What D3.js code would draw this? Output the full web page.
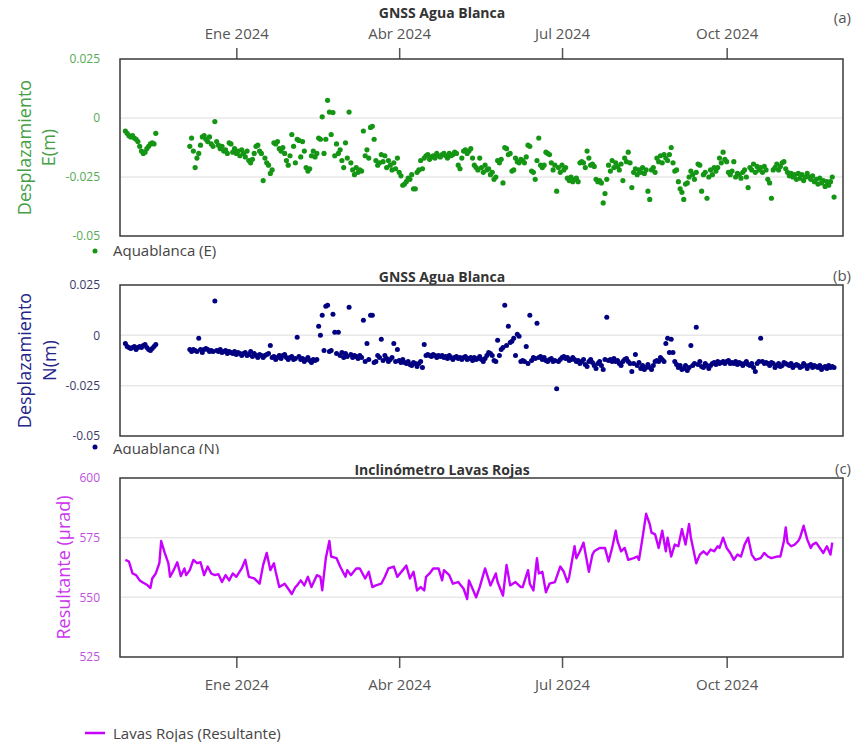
<!DOCTYPE html>
<html><head><meta charset="utf-8">
<script src="https://cdn.jsdelivr.net/npm/d3@7/dist/d3.min.js"></script>
<style>html,body{margin:0;padding:0;background:#fff;} svg{display:block;}</style>
</head><body>
<svg id="chart" width="853" height="742"></svg>
<script>
// ---------- data ----------
const monthTicks = ["2024-01-01","2024-04-01","2024-07-01","2024-10-01"];
const monthLabels = ["Ene 2024","Abr 2024","Jul 2024","Oct 2024"];

// GNSS daily samples starting at gnssStart (values in mm, null = no data)
const gnssStart = "2023-10-31";
const eastMm = [
-5.5,-6.5,-7.5,-8,-7.5,-8.5,-9,-10,-12,-14,-15,-14.5,-13,-12,-11,-10.5,-11,-6.5,
null,null,null,null,null,null,null,null,null,null,null,null,null,null,null,null,null,null,
-12,-8.5,-14,-21,-17,-15,-11.5,-8,-7.5,-9,
-10,-8,-11,-12,-1.5,-10,-11.5,-13,-12,-14,
-13.5,-15,-10.5,-11,-14.5,-13,-15,-14,-16,-13.5,
-15,-16.5,-14,-18,-19,-17.5,-15,-12,-11.5,-14,
-15,-26.5,-17,-19,-20,-23.5,-22,-10.5,-11,-10,
-13,-14,-12.5,-15,-18,-20,-16,-7,-12,-19,
-9,-9.5,-16.5,-10,-14,-21,-22.5,-21.5,-16,-14,
-16.5,-15,-8.5,-9,0.5,-15,-9,7.5,2.5,-7,
2.3,-16,-11,-15,-13.5,-18,-21,-10.5,-17,2.5,
-19,-22,-24,-21,-23,-22,-22.5,-5.5,-16,-13.5,
-17,-4,-3.5,-9,-18,-20,-19,-15.5,-18.5,-16,
-21,-18,-20,-22,-19,-21.5,-17,-23,-24.5,-28.5,
-28,-27,-25.5,-26,-24,-30,-30,-23,-22,-18,
-21.5,-17,-16,-15.5,-17.5,-16.5,-16,-17,-15,-16,
-16.5,-15.5,-15,-16,-17,-15,-16,-15.5,-14.5,-15,
-20,-21.5,-17,-14,-13.5,-15,-14,-13,-17,-20,
-21,-22,-17,-21,-23,-20,-22,-21.5,-24,-23,
-26,-25,-18,-19,-17.5,-27.5,-12.5,-13,-15.5,-15,
-22.5,-22,-17,-18.5,-19,-17.5,-18,-19,-16.5,-11.5,
-12,-22.5,-23,-26,-18,-8.5,-20,-21,-20,-14.5,
-15,-15.5,-19,-22,-20,-31,-21,-23,-20,-22,
-21,-25.5,-26.5,-25,-27,-26,-25.5,-27,-19,-18.5,
-19,-21,-14,-17,-20,-19.5,-20.5,-26,-27,-26.5,
-27.5,-36,-32,-26,-20,-22.5,-18,-21,-19,-20.5,
-22,-19.5,-26.5,-17,-18.5,-14.5,-19,-29.5,-23,-21.5,
-24,-22,-23,-21,-23.5,-22,-31,-34.5,-22,-21,
-23,-17,-18.5,-16,-19,-15.5,-17,-18,-15.5,-12.5,
-19,-22.5,-22,-27,-30,-31.5,-34.5,-28,-27.5,-25,
-22.5,-24,-26,-23,-19.5,-20,-31,-24,-23,-34,
-25,-22,-24,-21,-22.5,-21,-17,-19,-14.5,-17.5,
-18.5,-23,-24,-22.5,-18.5,-25,-23.5,-24,-25.5,-23,
-22,-25,-29.5,-21,-22,-19.5,-23,-20.5,-22,-21,
-23,-20.5,-22,-26,-27.5,-34,-22,-21,-19.5,-22,
-20.5,-19,-18.5,-21.5,-23,-24.5,-23.5,-25,-24,-26,
-23.5,-25.5,-24,-26.5,-25,-23.5,-25,-26,-24.5,-27,
-26,-28,-25.5,-27.5,-26.5,-29,-27,-28.5,-27,-25,
-33.5];
const northMm = [
-4,-5.5,-6,-6.5,-6,-5.5,-7,-6,-5.5,-6,-5,-4.5,-6,-7,-7.5,-6.5,-5.5,-4.5,
null,null,null,null,null,null,null,null,null,null,null,null,null,null,null,null,null,null,
-7,-8,-7,-7.5,-8,-1.5,-7,-8.5,-7,-6.5,
-7,-8,-7.5,-8,17,-7.5,-8,-7,-8.5,-8,
-7.5,-9,-8,-8.5,-9,-8,-9.5,-8.5,-9,-10,
-9,-8.5,-10,-9.5,-8,-10.5,-9,-10,-11,-9.5,
-10,-11,-10,-9.5,-9,-5,-11,-10.5,-12,-11,
-10,-11.5,-10,-9.5,-11,-12,-11,-10.5,-12,-11.5,
-1,-10.5,-12,-11.5,-13,-12,-11,-12.5,-13.5,-12,
-12.5,-12,4.5,0,10,-7.5,14.5,15,-8,-7.5,
10.5,1.5,-9,1.5,-10,-8.5,-11,-9,-10.5,14,
-9.5,-11,-10,-10.5,-11.5,-10,-11,7.5,-13,-4,
-12,10,10,-13.5,-13,-10,-11,-2,-12.5,-10,
-11.5,-13,-12,-11,-4,-13,-7,-12.5,-13.5,-12,
-13.5,-14,-13,-14.5,-15,-13.5,-14,-15.5,-14,-13,
-16,-4.5,-10,-9.5,-10,-10.5,-9.5,-10,-11,-10,
-10.5,-10,-11,-10.5,-11.5,-10,-11,-12,-11,-10.5,
-11.5,-11,-12,-11,-10.5,-12,-11.5,-11,-12.5,-11,
-12,-11.5,-10.5,-12,-13,-11.5,-10,-8.5,-9,-10,
-12.5,-13,-2.5,-10,-7,-6,15,-5,4.5,-3.5,
-3,-1.5,-10,0.5,-0.5,-13,-12.5,-13,-5.5,-14,
10,-12.5,-11,-11.5,6,-11,-10.5,-12,-11,-12.5,
-13,-12,-11.5,-13,-12.5,-26.5,-13,-12,-11,-10.5,
-11.5,-11,-12.5,-12,-11,-12,-13,-12.5,-14,-13,
-12,-14.5,-15.5,-13,-12,-13.5,-15,-16.5,-14,-13,
-15,-17,-12,9,-12.5,-12,-13,-11.5,-13,-12.5,
-14,-15,-13,-12,-11.5,-13,-14,-18,-14,-9.5,
-15,-13.5,-16.5,-15,-17,-16,-14.5,-16,-17,-15,
-13,-12.5,-13,-11,-12,-13,-4,-1.5,-8.5,-2,
-8.5,-13,-14.5,-16,-15,-17,-16.5,-15,-17.5,-16,
-5,-15,-14,4,-14.5,-13,-15.5,-16,-14,-15,
-16.5,-15,-14,-13.5,-14.5,-13,-14,-13.5,-13,-14,
-13,-12.5,-14,-13.5,-14,-13,-14.5,-13.5,-14,-15,
-14,-13,-14.5,-15,-14,-16,-18,-14,-13,-1.5,
-13,-14,-13.5,-14,-15,-13.5,-14,-16,-15,-14,
-15.5,-15,-13.5,-14,-14.5,-15,-14,-16,-15,-14.5,
-15,-16,-15.5,-14,-15,-16.5,-15,-14.5,-16,-15,
-15.5,-16,-15,-17,-16,-15.5,-16.5,-15,-16,-15.5,
-16];

// Tiltmeter: days since tiltStart and resultant (µrad)
const tiltStart = "2023-10-28";
const tiltDay = [3,5,7,9,11,13,15,17,18,20,22,23,25,27,28,30,32,34,36,37,39,41,43,45,47,49,51,53,55,57,59,61,63,65,68,70,72,75,78,80,82,84,86,87,89,92,94,96,98,99,101,103,105,107,110,112,113,115,117,118,121,123,126,127,129,132,134,137,139,141,143,146,148,150,153,155,158,160,162,164,166,168,170,171,173,175,178,180,181,184,186,189,192,194,195,197,199,201,204,207,210,211,214,216,218,221,224,225,228,229,231,233,234,236,238,240,243,246,248,250,251,254,255,257,259,262,264,265,268,271,273,275,277,278,280,282,284,287,289,290,292,294,296,297,299,301,303,305,306,308,310,312,314,316,318,319,322,324,326,328,330,332,334,335,337,339,341,343,345,347,349,351,353,355,358,360,362,364,367,369,371,372,373,375,377,379,380,382,384,386,387,389,391,393,395,397,398];
const tiltValue = [565.7,565,560,559.3,557.1,556.1,555.3,553.9,557.9,560,564.3,573.6,568.6,564.3,558.6,561.4,564.7,558.9,562.1,559.3,561.4,565.7,564.3,564.7,559.3,562.9,560,559.3,559.7,556.4,559.3,557.1,560,558.6,562.1,565.7,558.6,557.9,555.7,563.6,568.6,561.4,564.3,560.7,554.3,555.7,553.6,551.4,554.3,555,557.1,555,558.6,554.3,559.3,558.6,552.9,566.4,573.6,567.1,566.4,562.9,558.6,561.4,559.3,562.1,562.1,557.9,560.7,554.3,555,555.7,558.6,562.1,562.9,558.6,561.4,563.3,557.9,560.7,552.9,554.3,552.9,558.6,560,562.1,562.1,557.1,561.4,559.3,555.7,556.4,553.6,549.3,557.1,553.6,550,554.3,562.1,555,560,556.4,550.7,563.6,555,556.4,554.3,554.3,561.4,555.7,552.9,566.4,560,560.7,552.1,555.7,556.4,562.9,560.7,556.4,558.6,571.4,566.4,569.3,572.9,560.7,567.9,569.3,570.7,570.7,565,570.7,577.9,573.6,569.3,570.7,565.7,566.4,567.1,565.7,575,585,580.7,577.1,576.4,570.7,577.9,569.3,575,567.1,572.1,571.4,578.6,572.1,580.7,575,564.3,567.9,569.3,567.9,570,569.3,571.4,570.7,575,570.7,568.6,565.7,567.9,567.1,572.1,575,567.9,565.7,566.4,568.6,567.1,566.4,567.1,567.1,573.6,579.3,572.9,571.4,572.1,573.6,575,580,574.3,570.7,572.1,572.9,570.7,568.6,571.4,567.9,572.9];

const gnssTicks = [25, 0, -25, -50];
const gnssTickLabels = ["0.025", "0", "-0.025", "-0.05"];
const tiltTicks = [600, 575, 550, 525];
const tiltTickLabels = ["600", "575", "550", "525"];

// ---------- drawing ----------
const FONT = '"Open Sans", "Noto Sans", sans-serif';
const svg = d3.select("#chart").attr("font-family", FONT);
const L = 120, R = 843;
const utc = s => new Date(s + "T00:00:00Z");
const x = d3.scaleUtc().domain([utc("2023-10-28"), utc("2024-12-05")]).range([L, R]);

const gStart = utc(gnssStart);
const toPts = arr => arr.map((v, i) => ({date: d3.utcDay.offset(gStart, i), v})).filter(d => d.v !== null);
const eastPts = toPts(eastMm), northPts = toPts(northMm);
const tStart = utc(tiltStart);
const tiltPts = tiltDay.map((d, i) => ({date: d3.utcDay.offset(tStart, d), v: tiltValue[i]}));

function panel(o) {
  const y = d3.scaleLinear().domain(o.domain).range([o.bottom, o.top]);
  svg.append("g").selectAll("line").data(o.ticks.filter(t => y(t) > o.top + 1 && y(t) < o.bottom - 1))
    .join("line").attr("x1", L).attr("x2", R).attr("y1", d => y(d)).attr("y2", d => y(d))
    .attr("stroke", "#e8e8e8").attr("stroke-width", 1.5);
  const ay = svg.append("g").attr("transform", `translate(${L},0)`)
    .call(d3.axisLeft(y).tickValues(o.ticks).tickFormat((d, i) => o.labels[i]).tickSize(0).tickPadding(20));
  ay.select(".domain").remove();
  ay.selectAll("text").attr("fill", o.tickColor).attr("font-size", 12).attr("font-family", FONT);
  o.ytitle.forEach((t, i) => {
    svg.append("text").attr("transform", `translate(${o.ytitleX[i]},${(o.top + o.bottom) / 2}) rotate(-90)`)
      .attr("text-anchor", "middle").attr("dy", "0.35em").attr("font-size", 18)
      .attr("fill", o.titleColor).text(t);
  });
  svg.append("text").attr("x", 442).attr("y", o.titleY).attr("text-anchor", "middle")
    .attr("font-weight", "bold").attr("font-size", 14).attr("fill", "#333").text(o.title);
  svg.append("text").attr("x", 851).attr("y", o.tagY).attr("text-anchor", "end")
    .attr("font-size", 15).attr("fill", "#555").text(o.tag);
  return y;
}

function frameRect(top, bottom) {
  svg.append("rect").attr("x", L).attr("y", top).attr("width", R - L).attr("height", bottom - top)
    .attr("fill", "none").attr("stroke", "#3a3a3a").attr("stroke-width", 1.5);
}

function timeAxis(gen, yPos, pad) {
  const a = svg.append("g").attr("transform", `translate(0,${yPos})`)
    .call(gen(x).tickValues(monthTicks.map(utc)).tickFormat((d, i) => monthLabels[i]).tickSize(11).tickPadding(pad));
  a.select(".domain").remove();
  a.selectAll("line").attr("stroke", "#555").attr("stroke-width", 1.5);
  a.selectAll("text").attr("fill", "#555").attr("font-size", 15).attr("font-family", FONT);
}

// Panel (a)
const yA = panel({domain: [-50, 25], top: 59, bottom: 236, ticks: gnssTicks, labels: gnssTickLabels,
  tickColor: "#55aa55", titleColor: "#45a045", ytitle: ["Desplazamiento", "E(m)"], ytitleX: [25, 49],
  title: "GNSS Agua Blanca", titleY: 18, tag: "(a)", tagY: 23});
timeAxis(d3.axisTop, 59, 9);
svg.append("g").selectAll("circle").data(eastPts).join("circle")
  .attr("cx", d => x(d.date)).attr("cy", d => yA(d.v)).attr("r", 2.6).attr("fill", "#149614");
frameRect(59, 236);
svg.append("circle").attr("cx", 95).attr("cy", 251).attr("r", 2.5).attr("fill", "#149614");
svg.append("text").attr("x", 113).attr("y", 255.5).attr("font-size", 15).attr("fill", "#444").text("Aquablanca (E)");

// Panel (b)
const yB = panel({domain: [-50, 25], top: 285, bottom: 436, ticks: gnssTicks, labels: gnssTickLabels,
  tickColor: "#3a3a66", titleColor: "#24248a", ytitle: ["Desplazamiento", "N(m)"], ytitleX: [25, 50],
  title: "GNSS Agua Blanca", titleY: 282, tag: "(b)", tagY: 281});
svg.append("g").selectAll("circle").data(northPts).join("circle")
  .attr("cx", d => x(d.date)).attr("cy", d => yB(d.v)).attr("r", 2.5).attr("fill", "#000080");
frameRect(285, 436);
svg.append("clipPath").attr("id", "legclip").append("rect").attr("x", 0).attr("y", 437).attr("width", 400).attr("height", 17);
const lb = svg.append("g").attr("clip-path", "url(#legclip)");
lb.append("circle").attr("cx", 95).attr("cy", 447).attr("r", 2.5).attr("fill", "#000080");
lb.append("text").attr("x", 113).attr("y", 454).attr("font-size", 15).attr("fill", "#444").text("Aquablanca (N)");

// Panel (c)
const yC = panel({domain: [525, 600], top: 478, bottom: 657, ticks: tiltTicks, labels: tiltTickLabels,
  tickColor: "#c050e0", titleColor: "#cc33ee", ytitle: ["Resultante (µrad)"], ytitleX: [64],
  title: "Inclinómetro Lavas Rojas", titleY: 475, tag: "(c)", tagY: 474});
timeAxis(d3.axisBottom, 657, 11);
svg.append("path").datum(tiltPts)
  .attr("d", d3.line().x(d => x(d.date)).y(d => yC(d.v)))
  .attr("fill", "none").attr("stroke", "#c800ff").attr("stroke-width", 2.4).attr("stroke-linejoin", "round");
frameRect(478, 657);
svg.append("line").attr("x1", 85).attr("x2", 105).attr("y1", 733).attr("y2", 733)
  .attr("stroke", "#c800ff").attr("stroke-width", 2.5);
svg.append("text").attr("x", 113).attr("y", 739).attr("font-size", 15).attr("fill", "#444").text("Lavas Rojas (Resultante)");
</script>
</body></html>
